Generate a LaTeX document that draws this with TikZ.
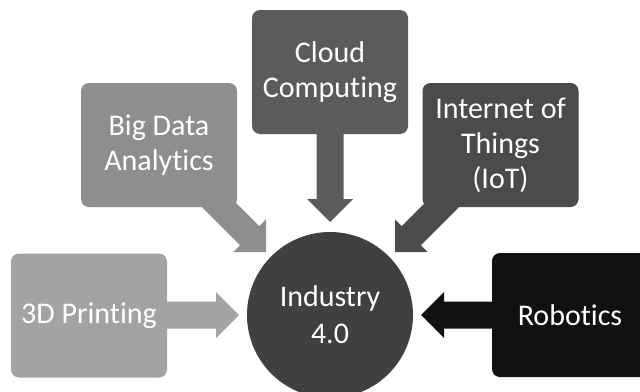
\documentclass[tikz,border=0pt]{standalone}
\usepackage{fontspec}
\setmainfont{Carlito}[Ligatures=NoCommon]
\definecolor{cPrint}{HTML}{A3A3A3}
\definecolor{cBig}{HTML}{8E8E8E}
\definecolor{cCloud}{HTML}{5B5B5B}
\definecolor{cIoT}{HTML}{4B4B4B}
\definecolor{cInd}{HTML}{404040}
\definecolor{cRob}{HTML}{111111}
\newcommand{\blockarrow}[4]{% color, tip coordinate, angle, length
  \begin{scope}[shift={(#2)}, rotate=#3]
    \fill[#1] (0,0) -- (-23,23) -- (-23,13.5) -- (-#4,13.5) -- (-#4,-13.5) -- (-23,-13.5) -- (-23,-23) -- cycle;
  \end{scope}}
\begin{document}
\begin{tikzpicture}[x=1pt,y=-1pt,
  box/.style={rectangle, rounded corners=8pt, minimum width=156pt, minimum height=124pt,
    inner sep=2pt, text=white, align=center,
    font=\fontsize{30}{35}\selectfont},
  hub/.style={circle, minimum size=166pt, inner sep=0pt, fill=cInd, text=white, align=center,
    font=\fontsize{30}{37}\selectfont}]
\useasboundingbox (0,0) rectangle (640,391);
\clip (0,0) rectangle (640,391);
% tips of the block arrows
\coordinate (tPrint) at (239,315);
\coordinate (tBig) at (266,252);
\coordinate (tCloud) at (330,222);
\coordinate (tIoT) at (395,252);
\coordinate (tRob) at (421,315);
% arrows (drawn first, boxes cover their tails)
\blockarrow{cPrint}{tPrint}{0}{150}
\blockarrow{cBig}{tBig}{-45}{150}
\blockarrow{cCloud}{tCloud}{-90}{150}
\blockarrow{cIoT}{tIoT}{-135}{150}
\blockarrow{cRob}{tRob}{180}{150}
% nodes
\node[hub] (ind) at (330,315) {Industry\\4.0};
\node[box, fill=cPrint] (print) at (89,315.5) {3D Printing};
\node[box, fill=cBig] (big) at (159,145) {Big Data\\Analytics};
\node[box, fill=cCloud] (cloud) at (330,72) {Cloud\\Computing};
\node[box, fill=cIoT] (iot) at (500.5,145) {Internet of\\Things\\(IoT)};
\node[box, fill=cRob] (rob) at (570,315) {Robotics};
\end{tikzpicture}
\end{document}
